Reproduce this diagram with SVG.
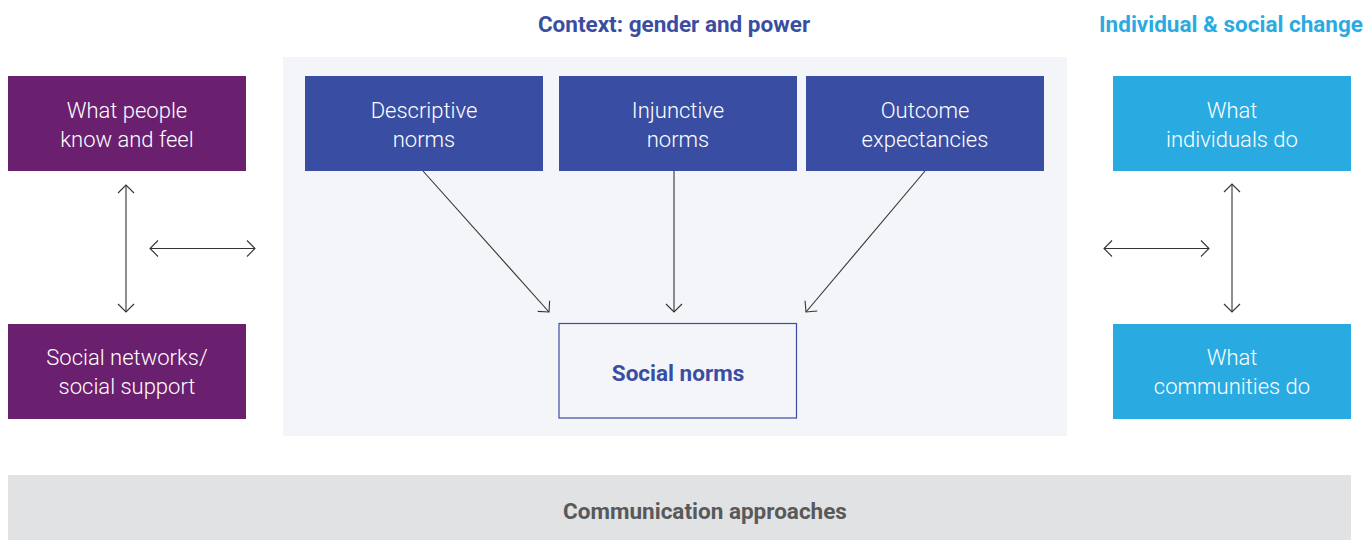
<svg xmlns="http://www.w3.org/2000/svg" width="1368" height="540" viewBox="0 0 1368 540">
<defs>
<style>
.hdr{font-family:"Roboto","Liberation Sans",sans-serif;font-weight:700;font-size:22.5px;text-anchor:middle}
.lbl{font-family:"Roboto","Liberation Sans",sans-serif;font-weight:300;font-size:22px;fill:#ffffff;text-anchor:middle}
.bold{font-family:"Roboto","Liberation Sans",sans-serif;font-weight:700;font-size:22.5px;text-anchor:middle}
.purple{fill:#6a1f6f}
.blue{fill:#394ea2}
.cyan{fill:#29abe2}
.conn{stroke:#333333;stroke-width:1.1;fill:none;marker-end:url(#ah)}
.conn2{stroke:#333333;stroke-width:1.1;fill:none;marker-end:url(#ah);marker-start:url(#ah)}
</style>
<marker id="ah" viewBox="-10 -10 12 20" refX="0" refY="0" markerWidth="12" markerHeight="20" markerUnits="userSpaceOnUse" orient="auto-start-reverse">
<path d="M -8 -8 L 0 0 L -8 8" fill="none" stroke="#333333" stroke-width="1.1"/>
</marker>
</defs>
<rect x="0" y="0" width="1368" height="540" fill="#ffffff"/>
<g id="panel">
<rect x="283" y="57" width="784" height="379" fill="#f4f5f9"/>
</g>
<g id="headers">
<text class="hdr" x="674" y="32" fill="#394ea2">Context: gender and power</text>
<text class="hdr" x="1231" y="32" fill="#29abe2">Individual &amp; social change</text>
</g>
<g id="node-know">
<rect class="purple" x="8" y="76" width="238" height="95"/>
<text class="lbl" x="127" y="118">What people</text>
<text class="lbl" x="127" y="147">know and feel</text>
</g>
<g id="node-networks">
<rect class="purple" x="8" y="324" width="238" height="95"/>
<text class="lbl" x="127" y="365">Social networks/</text>
<text class="lbl" x="127" y="394">social support</text>
</g>
<g id="node-descriptive">
<rect class="blue" x="305" y="76" width="238" height="95"/>
<text class="lbl" x="424" y="118">Descriptive</text>
<text class="lbl" x="424" y="147">norms</text>
</g>
<g id="node-injunctive">
<rect class="blue" x="559" y="76" width="238" height="95"/>
<text class="lbl" x="678" y="118">Injunctive</text>
<text class="lbl" x="678" y="147">norms</text>
</g>
<g id="node-outcome">
<rect class="blue" x="806" y="76" width="238" height="95"/>
<text class="lbl" x="925" y="118">Outcome</text>
<text class="lbl" x="925" y="147">expectancies</text>
</g>
<g id="node-socialnorms">
<rect x="559" y="323.5" width="237.5" height="94.5" fill="#f4f5f9" stroke="#394ea2" stroke-width="1.2"/>
<text class="bold" x="678" y="381" fill="#394ea2">Social norms</text>
</g>
<g id="node-individuals">
<rect class="cyan" x="1113" y="76" width="238" height="95"/>
<text class="lbl" x="1232" y="118">What</text>
<text class="lbl" x="1232" y="147">individuals do</text>
</g>
<g id="node-communities">
<rect class="cyan" x="1113" y="324" width="238" height="95"/>
<text class="lbl" x="1232" y="365">What</text>
<text class="lbl" x="1232" y="394">communities do</text>
</g>
<g id="node-communication">
<rect x="8" y="475" width="1343" height="65" fill="#e1e2e4"/>
<text class="bold" x="705" y="519" fill="#58595b">Communication approaches</text>
</g>
<g id="connectors">
<line class="conn2" x1="126" y1="185" x2="126" y2="312"/>
<line class="conn2" x1="150" y1="248.5" x2="255" y2="248.5"/>
<line class="conn" x1="423" y1="171" x2="549" y2="312"/>
<line class="conn" x1="674" y1="171" x2="674" y2="312"/>
<line class="conn" x1="925" y1="171" x2="806" y2="312"/>
<line class="conn2" x1="1104" y1="248.5" x2="1209" y2="248.5"/>
<line class="conn2" x1="1232" y1="184" x2="1232" y2="312"/>
</g>
</svg>
